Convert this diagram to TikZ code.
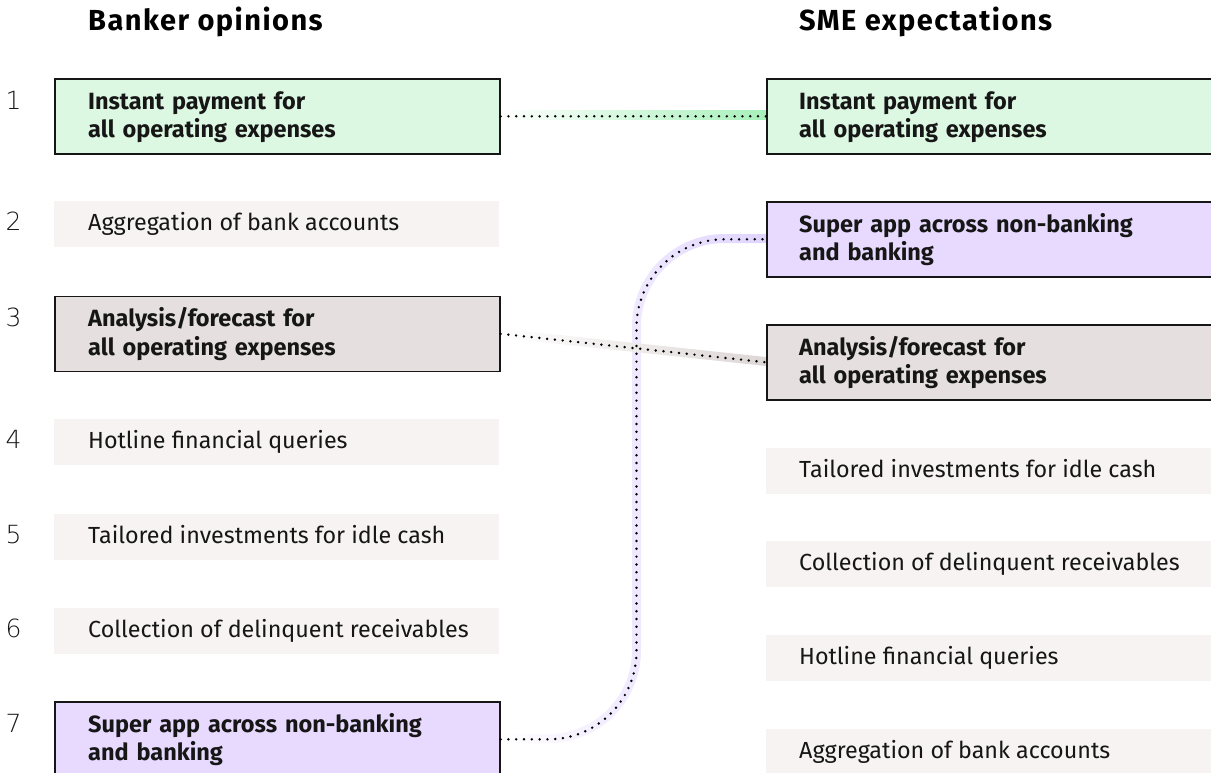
\documentclass[tikz,border=0pt]{standalone}
\usepackage{fontspec}
\setmainfont{Fira Sans}
\newfontfamily\thinfont[Extension=.ttf]{DejaVuSans-ExtraLight}
\newfontfamily\headfont[LetterSpace=5]{Fira Sans}
\usetikzlibrary{calc}
\definecolor{grn}{HTML}{DCF8E3}
\definecolor{grnband}{HTML}{A7F0BA}
\definecolor{pur}{HTML}{E8DAFF}
\definecolor{purband}{HTML}{E0D4FF}
\definecolor{gry}{HTML}{E5E0DF}
\definecolor{gryband}{HTML}{DDD7D6}
\definecolor{lightbox}{HTML}{F7F3F2}
\definecolor{ink}{HTML}{161616}
\begin{document}
\begin{tikzpicture}[x=1pt,y=-1pt,
 hl/.style={draw=ink, line width=1.6pt, minimum width=445pt, minimum height=75pt, inner sep=0pt, anchor=north west},
 pl/.style={fill=lightbox, minimum width=445pt, minimum height=46pt, inner sep=0pt, anchor=north west},
 boldtxt/.style={anchor=base west, inner sep=0pt, text width=420pt, align=left, font=\fontsize{23.5}{28.4}\selectfont\bfseries, text=ink},
 regtxt/.style={anchor=base west, inner sep=0pt, font=\fontsize{23.3}{28.4}\selectfont, text=ink},
 numtxt/.style={anchor=base, inner sep=0pt, font=\thinfont\fontsize{25}{28}\selectfont, text=ink},
 headtxt/.style={anchor=base west, inner sep=0pt, font=\headfont\fontsize{29}{32}\selectfont\bfseries, text=black},
 dotline/.style={draw=black, line width=2.7pt, line cap=round, dash pattern=on 0pt off 7.8pt},
]
\useasboundingbox (0,0) rectangle (1211,773);
% bands
\shade[left color=white, middle color=purband!70!white, right color=purband]
  (499,734) -- (548.5,734)
  .. controls (594.62,734) and (632,696.62) .. (632,650.5)
  -- (632,326.5)
  .. controls (632,275.41) and (673.41,234) .. (724.5,234)
  -- (766,234) -- (766,243) -- (724.5,243)
  .. controls (678.38,243) and (641,280.38) .. (641,326.5)
  -- (641,650.5)
  .. controls (641,701.59) and (599.59,743) .. (548.5,743)
  -- (499,743) -- cycle;
\shade[left color=white, right color=gryband] (499,328.5) -- (766,357) -- (766,366) -- (499,337.5) -- cycle;
\shade[left color=white, right color=grnband] (499,111) rectangle (766,120);
% headings
\node[headtxt] (H1) at (88,31) {Banker opinions};
\node[headtxt] (H2) at (799,31) {SME expectations};
% left boxes
\node[hl, fill=grn] (L1) at (54,78) {};
\node[pl] (L2) at (54,201) {};
\node[hl, fill=gry] (L3) at (54,295.5) {};
\node[pl] (L4) at (54,419) {};
\node[pl] (L5) at (54,514) {};
\node[pl] (L6) at (54,608) {};
\node[hl, fill=pur] (L7) at (54,701) {};
% right boxes
\node[hl, fill=grn] (R1) at (766,78) {};
\node[hl, fill=pur] (R2) at (766,201) {};
\node[hl, fill=gry] (R3) at (766,324) {};
\node[pl] (R4) at (766,448) {};
\node[pl] (R5) at (766,541) {};
\node[pl] (R6) at (766,635) {};
\node[pl] (R7) at (766,729) {};
% left texts
\node[boldtxt] (TL1) at ([xshift=34pt,yshift=7.2pt]L1.west) {Instant payment for\\all operating expenses};
\node[regtxt] (TL2) at ([xshift=34pt,yshift=-6.7pt]L2.west) {Aggregation of bank accounts};
\node[boldtxt] (TL3) at ([xshift=34pt,yshift=7.2pt]L3.west) {Analysis/forecast for\\all operating expenses};
\node[regtxt] (TL4) at ([xshift=34pt,yshift=-6.7pt]L4.west) {Hotline financial queries};
\node[regtxt] (TL5) at ([xshift=34pt,yshift=-6.7pt]L5.west) {Tailored investments for idle cash};
\node[regtxt] (TL6) at ([xshift=34pt,yshift=-6.7pt]L6.west) {Collection of delinquent receivables};
\node[boldtxt] (TL7) at ([xshift=34pt,yshift=7.2pt]L7.west) {Super app across non-banking\\and banking};
% right texts
\node[boldtxt] (TR1) at ([xshift=33pt,yshift=7.2pt]R1.west) {Instant payment for\\all operating expenses};
\node[boldtxt] (TR2) at ([xshift=33pt,yshift=7.2pt]R2.west) {Super app across non-banking\\and banking};
\node[boldtxt] (TR3) at ([xshift=33pt,yshift=7.2pt]R3.west) {Analysis/forecast for\\all operating expenses};
\node[regtxt] (TR4) at ([xshift=33pt,yshift=-6.7pt]R4.west) {Tailored investments for idle cash};
\node[regtxt] (TR5) at ([xshift=33pt,yshift=-6.7pt]R5.west) {Collection of delinquent receivables};
\node[regtxt] (TR6) at ([xshift=33pt,yshift=-6.7pt]R6.west) {Hotline financial queries};
\node[regtxt] (TR7) at ([xshift=33pt,yshift=-6.7pt]R7.west) {Aggregation of bank accounts};
% numbers
\coordinate (numx) at (13.5,0);
\node[numtxt] (N1) at (TL1.base -| numx) {1};
\node[numtxt] (N2) at (TL2.base -| numx) {2};
\node[numtxt] (N3) at (TL3.base -| numx) {3};
\node[numtxt] (N4) at (TL4.base -| numx) {4};
\node[numtxt] (N5) at (TL5.base -| numx) {5};
\node[numtxt] (N6) at (TL6.base -| numx) {6};
\node[numtxt] (N7) at (TL7.base -| numx) {7};
% connectors
\coordinate (vx) at (636.5,0);
\draw[dotline] (L1.east) -- (R1.west);
\draw[dotline] (L3.east) -- (R3.west);
\draw[dotline, rounded corners=88pt] (L7.east) -- (L7.east -| vx) -- (R2.west -| vx) -- (R2.west);
\end{tikzpicture}
\end{document}
